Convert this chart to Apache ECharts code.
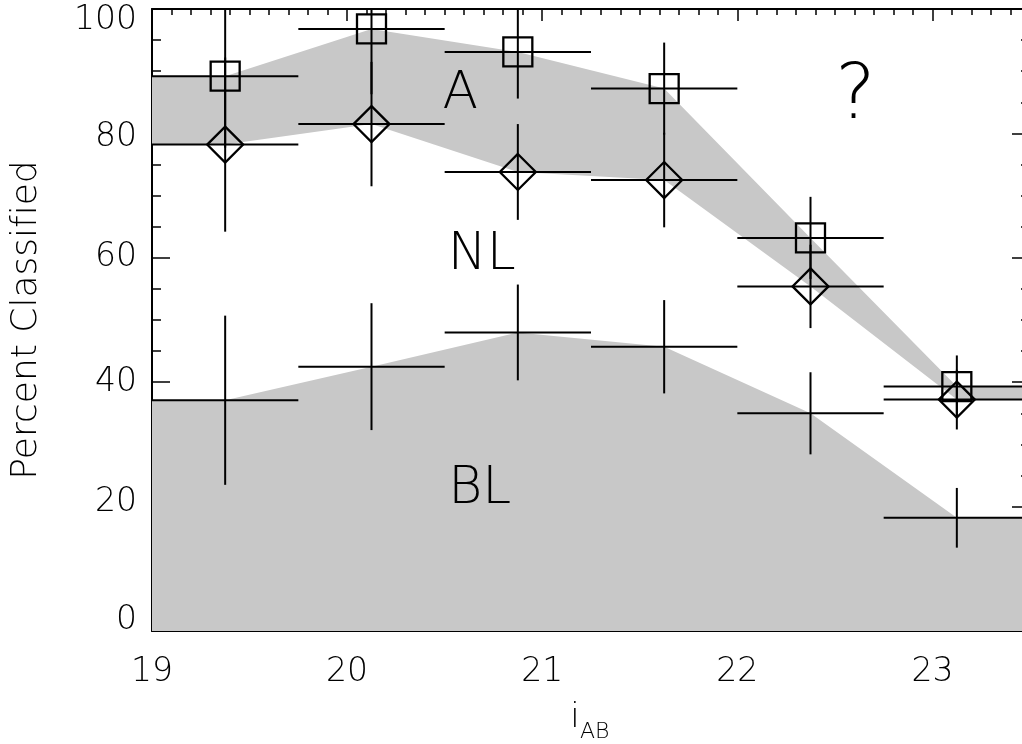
<!DOCTYPE html>
<html>
<head>
<meta charset="utf-8">
<script src="https://cdn.jsdelivr.net/npm/echarts@6/dist/echarts.min.js"></script>
<style>html,body{margin:0;padding:0;background:#fff}#c{width:1022px;height:744px}</style>
</head>
<body>
<div id="c"></div>
<script>
// ---- data ----
const binCenters   = [19.375, 20.125, 20.875, 21.625, 22.375, 23.125];
const binHalfWidth = 0.375;
const squareVals   = [89.2, 96.8, 93.1, 87.2, 63.2, 39.3];   // A + NL upper boundary
const squareErr    = [11.5, 10.5, 7.5, 7.4, 6.6, 5.0];
const diamondVals  = [78.2, 81.5, 73.8, 72.5, 55.4, 37.2];   // NL upper boundary
const diamondErr   = [14.0, 10.0, 7.7, 7.6, 6.7, 4.8];
const blVals       = [37.1, 42.5, 48.0, 45.7, 35.0, 18.2];   // BL
const blErr        = [13.6, 10.2, 7.7, 7.5, 6.6, 4.8];
const xMin = 19, xMax = 23.5;
const xTicks = [19, 20, 21, 22, 23];
const yTicks = [0, 20, 40, 60, 80, 100];
const regionLabels = ['A', 'NL', 'BL', '?'];
const regionX      = [20.58, 20.69, 20.68, 22.605];
const regionY      = [86.2, 60.4, 22.8, 85.7];
const regionSize   = [52, 52, 52, 76];

const FONT = "'DejaVu Sans'";
const FW = 200;
const GRAY = '#c8c8c8';

function edgeSeries(vals) {
  const pts = [[xMin, vals[0]]];
  binCenters.forEach((x, i) => pts.push([x, vals[i]]));
  pts.push([xMax, vals[vals.length - 1]]);
  return pts;
}

const blEdge = edgeSeries(blVals);
const loEdge = edgeSeries(diamondVals);
const hiEdge = edgeSeries(squareVals);

function polyRender(lower, upper) {
  return function (params, api) {
    if (params.dataIndex !== 0) return null;
    const pts = [];
    lower.forEach(p => pts.push(api.coord(p)));
    for (let i = upper.length - 1; i >= 0; i--) pts.push(api.coord(upper[i]));
    return { type: 'polygon', shape: { points: pts }, style: { fill: GRAY, stroke: null } };
  };
}

function errRender(kind) {
  return function (params, api) {
    const x = api.value(0), y = api.value(1), e = api.value(2);
    const c = api.coord([x, y]);
    const l = api.coord([x - binHalfWidth, y]);
    const r = api.coord([x + binHalfWidth, y]);
    const t = api.coord([x, y + e]);
    const b = api.coord([x, y - e]);
    const ls = { stroke: '#000', lineWidth: 2, fill: null };
    const ch = [
      { type: 'line', shape: { x1: l[0], y1: l[1], x2: r[0], y2: r[1] }, style: ls },
      { type: 'line', shape: { x1: t[0], y1: t[1], x2: b[0], y2: b[1] }, style: ls }
    ];
    if (kind === 'square') {
      const h = 14.5;
      ch.push({ type: 'rect', shape: { x: c[0] - h, y: c[1] - h, width: 2 * h, height: 2 * h },
                style: { stroke: '#000', lineWidth: 2.3, fill: 'rgba(0,0,0,0)' } });
    } else if (kind === 'diamond') {
      const h = 18;
      ch.push({ type: 'polygon', shape: { points: [[c[0], c[1] - h], [c[0] + h, c[1]], [c[0], c[1] + h], [c[0] - h, c[1]]] },
                style: { stroke: '#000', lineWidth: 2.3, fill: 'rgba(0,0,0,0)' } });
    }
    return { type: 'group', children: ch };
  };
}

function errData(vals, errs) {
  return binCenters.map((x, i) => [x, vals[i], errs[i]]);
}

const chart = echarts.init(document.getElementById('c'), null, { renderer: 'canvas' });

const axisLineStyle = { onZero: false, lineStyle: { color: '#000', width: 2 } };
const labelFont = { color: '#000', fontSize: 33, fontFamily: FONT, fontWeight: FW };
const yRich = {
  hi:  Object.assign({ padding: [22, 0, 0, 0] }, labelFont),
  mhi: Object.assign({ padding: [8, 0, 0, 0] }, labelFont),
  mid: Object.assign({}, labelFont),
  mlo: Object.assign({ padding: [0, 0, 8, 0] }, labelFont),
  lo:  Object.assign({ padding: [0, 0, 22, 0] }, labelFont)
};
function yLabel(v) {
  if (yTicks.indexOf(v) < 0) return '';
  const k = v === 100 ? 'hi' : v === 80 ? 'mhi' : v === 20 ? 'mlo' : v === 0 ? 'lo' : 'mid';
  return '{' + k + '|' + v + '}';
}

chart.setOption({
  animation: false,
  backgroundColor: '#fff',
  grid: { left: 152, top: 9, right: -8, bottom: 113, containLabel: false, outerBoundsMode: 'none' },
  xAxis: [
    { type: 'value', position: 'bottom', min: xMin, max: xMax, interval: 1, z: 0,
      axisLine: axisLineStyle, splitLine: { show: false },
      axisTick: { show: false }, minorTick: { show: false },
      axisLabel: Object.assign({ margin: 25, showMaxLabel: false,
        formatter: v => (xTicks.indexOf(v) >= 0 ? String(v) : '') }, labelFont) },
    { type: 'value', position: 'top', min: xMin, max: xMax, interval: 1, z: 0,
      axisLine: axisLineStyle, splitLine: { show: false },
      axisTick: { inside: true, length: 12, lineStyle: { color: '#000', width: 1.5 } },
      minorTick: { show: true, splitNumber: 10, length: 6, lineStyle: { color: '#000', width: 1.5 } },
      axisLabel: { show: false } }
  ],
  yAxis: [
    { type: 'value', position: 'left', min: 0, max: 100, interval: 20, z: 0,
      axisLine: axisLineStyle, splitLine: { show: false },
      axisTick: { inside: true, length: 18, lineStyle: { color: '#000', width: 1.5 } },
      minorTick: { show: true, splitNumber: 4, length: 9, lineStyle: { color: '#000', width: 1.5 } },
      axisLabel: { margin: 15, formatter: yLabel, rich: yRich },
      name: 'Percent Classif\u200Cied', nameLocation: 'middle', nameRotate: 90, nameGap: 107,
      nameTextStyle: { color: '#000', fontSize: 36, fontFamily: FONT, fontWeight: FW } },
    { type: 'value', position: 'right', min: 0, max: 100, interval: 20, z: 0,
      axisLine: axisLineStyle, splitLine: { show: false },
      axisTick: { inside: true, length: 18, lineStyle: { color: '#000', width: 1.5 } },
      minorTick: { show: true, splitNumber: 4, length: 9, lineStyle: { color: '#000', width: 1.5 } },
      axisLabel: { show: false } }
  ],
  graphic: [
    { type: 'text', x: 575, y: 718, z: 10,
      style: { text: 'i', fill: '#000', font: FW + ' 34px ' + FONT, align: 'center', verticalAlign: 'middle' } },
    { type: 'text', x: 580, y: 732, z: 10,
      style: { text: 'AB', fill: '#000', font: FW + ' 22px ' + FONT, align: 'left', verticalAlign: 'middle' } }
  ],
  series: [
    { type: 'custom', name: 'BL area', xAxisIndex: 0, yAxisIndex: 0, clip: true, z: 3,
      data: [[xMin, 0]],
      renderItem: polyRender(blEdge.map(p => [p[0], 0]), blEdge) },
    { type: 'custom', name: 'A band', xAxisIndex: 0, yAxisIndex: 0, clip: true, z: 3,
      data: [[xMin, 0]],
      renderItem: polyRender(loEdge, hiEdge) },
    { type: 'custom', name: 'BL', clip: true, z: 5, data: errData(blVals, blErr), renderItem: errRender('plus') },
    { type: 'custom', name: 'NL', clip: true, z: 5, data: errData(diamondVals, diamondErr), renderItem: errRender('diamond') },
    { type: 'custom', name: 'A', clip: true, z: 5, data: errData(squareVals, squareErr), renderItem: errRender('square') },
    { type: 'custom', name: 'labels', clip: false, z: 6,
      data: regionLabels.map((t, i) => [regionX[i], regionY[i], i]),
      renderItem: function (params, api) {
        const i = api.value(2);
        const c = api.coord([api.value(0), api.value(1)]);
        return { type: 'text', x: c[0], y: c[1],
          style: { text: regionLabels[i], fill: '#000', font: FW + ' ' + regionSize[i] + 'px ' + FONT,
                   align: 'center', verticalAlign: 'middle' } };
      } }
  ]
});
</script>
</body>
</html>
